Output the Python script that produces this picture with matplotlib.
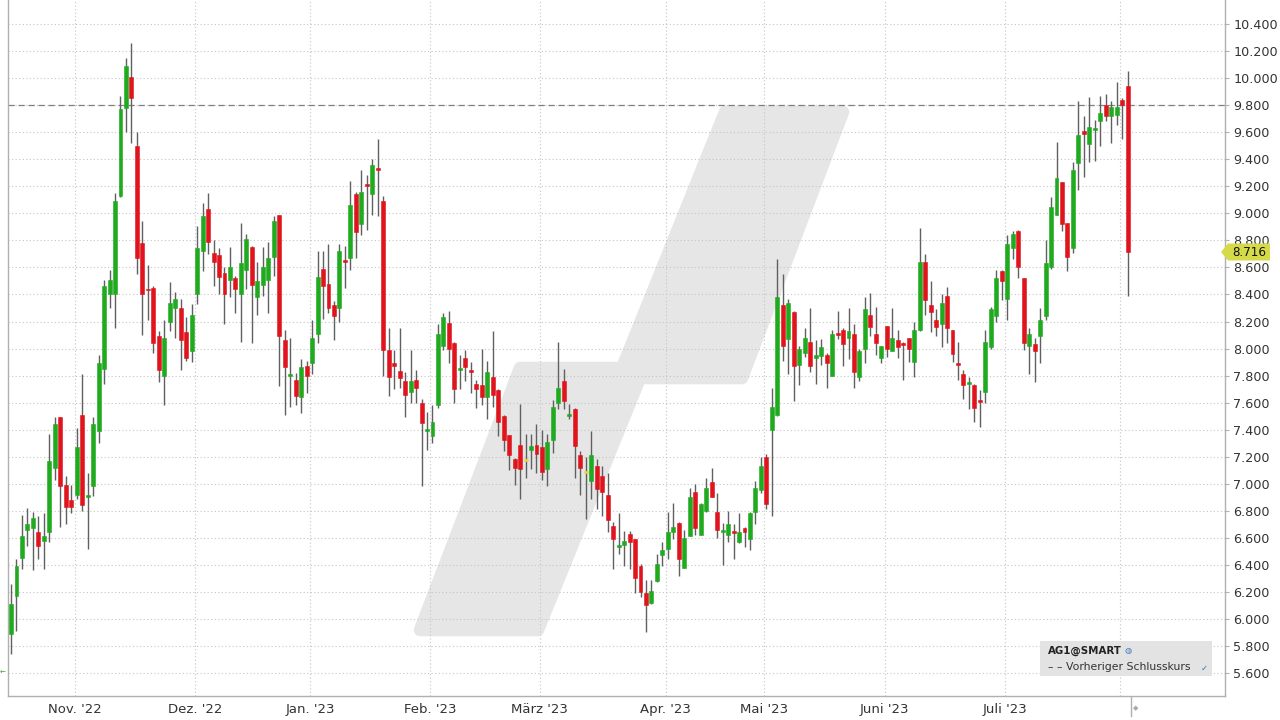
import numpy as np
import pandas as pd
import matplotlib
matplotlib.use("Agg")
import matplotlib.pyplot as plt
from matplotlib.patches import Polygon, Rectangle

plt.rcParams['font.family'] = ['DejaVu Sans']

# ---------------- data ----------------
start_date = "2022-10-14"
end_date = "2023-08-02"
holidays = ["2022-12-26", "2023-04-07", "2023-04-10", "2023-05-01"]

opens = [5.89, 6.17, 6.45, 6.66, 6.67, 6.64, 6.58, 6.64, 7.12, 7.49, 6.99, 6.88,
         6.92, 7.51, 6.905, 6.98, 7.39, 7.85, 8.40, 8.40, 9.13, 9.78, 10.01, 9.50,
         8.78, 8.44, 8.45, 8.09, 7.80, 8.20, 8.30, 8.30, 8.12, 7.98,
         8.40, 8.72, 9.03, 8.71, 8.69, 8.56, 8.51, 8.52, 8.40, 8.58, 8.75, 8.38,
         8.47, 8.51, 8.68, 8.99, 8.06, 7.795, 7.77, 7.64, 7.87,
         7.89, 8.11, 8.59, 8.48, 8.32, 8.30, 8.65, 8.67, 9.14, 8.92, 9.21, 9.14,
         9.33, 9.09, 7.99, 7.89, 7.835, 7.76, 7.68, 7.77, 7.60, 7.39,
         7.35, 7.58, 8.02, 8.19, 8.04, 7.843, 7.93, 7.837, 7.74, 7.73, 7.64, 7.79,
         7.69, 7.50, 7.36, 7.18, 7.29, 7.17, 7.25, 7.29,
         7.27, 7.11, 7.32, 7.60, 7.76, 7.50, 7.555, 7.21, 7.08, 7.02, 7.13, 7.06,
         6.92, 6.69, 6.53, 6.55, 6.63, 6.59, 6.39, 6.19, 6.12, 6.28, 6.47,
         6.52, 6.64, 6.71, 6.38, 6.61, 6.94, 6.62, 6.80, 7.01, 6.79, 6.64, 6.62,
         6.643, 6.57, 6.67, 6.59, 6.79, 6.95,
         7.20, 7.40, 7.51, 8.32, 8.07, 8.27, 7.88, 7.97, 8.05, 7.93, 7.945, 7.95,
         7.80, 8.113, 8.14, 8.08, 8.11, 7.79, 8.00, 8.25, 8.11, 7.93,
         8.17, 7.98, 8.06, 8.044, 8.08, 7.90, 8.135, 8.64, 8.32, 8.21, 8.18, 8.39,
         8.135, 7.89, 7.81, 7.735, 7.73, 7.614, 7.68, 8.01, 8.24, 8.57,
         8.37, 8.74, 8.87, 8.52, 8.02, 8.03, 8.09, 8.24, 8.60, 8.99, 9.23, 8.93,
         8.74, 9.37, 9.606, 9.51, 9.616, 9.68, 9.80, 9.72, 9.73,
         9.835, 9.94]
highs = [6.26, 6.44, 6.77, 6.82, 6.79, 6.76, 6.78, 7.37, 7.49, 7.49, 7.06, 6.99,
         7.41, 7.81, 7.08, 7.49, 7.95, 8.51, 8.58, 9.15, 9.87, 10.15, 10.26, 9.60,
         8.94, 8.62, 8.46, 8.13, 8.21, 8.49, 8.42, 8.37, 8.23, 8.33,
         8.91, 9.08, 9.15, 8.80, 8.74, 8.60, 8.75, 8.54, 8.93, 8.85, 8.76, 8.64,
         8.75, 8.79, 8.98, 8.99, 8.14, 8.08, 7.82, 7.92, 7.91,
         8.21, 8.72, 8.72, 8.77, 8.35, 8.77, 8.76, 9.24, 9.16, 9.32, 9.28, 9.40,
         9.55, 9.13, 8.15, 7.99, 8.15, 7.83, 7.99, 7.84, 7.63, 7.53,
         7.58, 8.18, 8.26, 8.28, 8.05, 7.95, 7.99, 7.90, 7.77, 8.00, 7.91, 8.13,
         7.70, 7.51, 7.36, 7.19, 7.59, 7.37, 7.37, 7.44,
         7.40, 7.37, 7.62, 8.05, 7.85, 7.59, 7.56, 7.24, 7.20, 7.39, 7.18, 7.13,
         7.08, 6.72, 6.78, 6.65, 6.65, 6.59, 6.41, 6.29, 6.29, 6.48, 6.57,
         6.79, 6.86, 6.72, 6.66, 6.97, 7.00, 6.86, 7.04, 7.12, 6.93, 6.71, 6.80,
         6.70, 6.78, 6.68, 6.79, 7.02, 7.20,
         7.22, 7.71, 8.66, 8.55, 8.37, 8.28, 8.02, 8.15, 8.30, 8.06, 8.07, 7.97,
         8.14, 8.28, 8.15, 8.30, 8.18, 8.00, 8.38, 8.41, 8.31, 8.02,
         8.17, 8.30, 8.14, 8.05, 8.08, 8.20, 8.89, 8.70, 8.50, 8.29, 8.40, 8.455,
         8.14, 8.05, 7.84, 7.79, 7.74, 7.69, 8.14, 8.31, 8.58, 8.58,
         8.84, 8.87, 8.88, 8.52, 8.15, 8.08, 8.30, 8.80, 9.12, 9.53, 9.23, 8.93,
         9.38, 9.83, 9.72, 9.86, 9.69, 9.87, 9.88, 9.83, 9.975,
         9.85, 10.05]
lows = [5.74, 5.91, 6.37, 6.54, 6.36, 6.44, 6.37, 6.57, 7.03, 6.68, 6.70, 6.78,
        6.89, 6.80, 6.52, 6.91, 7.30, 7.74, 8.30, 8.15, 9.12, 9.60, 9.52, 8.55,
        8.10, 8.21, 7.97, 7.75, 7.58, 8.13, 8.08, 7.84, 7.91, 7.90,
        8.33, 8.57, 8.70, 8.46, 8.40, 8.18, 8.38, 8.26, 8.05, 8.44, 8.04, 8.25,
        8.39, 8.26, 8.54, 7.72, 7.51, 7.57, 7.58, 7.52, 7.67,
        7.81, 8.04, 8.22, 8.26, 8.06, 8.20, 8.45, 8.58, 8.67, 8.84, 8.88, 8.99,
        8.98, 7.80, 7.65, 7.70, 7.71, 7.49, 7.60, 7.60, 6.98, 7.25,
        7.30, 7.56, 7.99, 7.89, 7.60, 7.70, 7.76, 7.67, 7.56, 7.58, 7.48, 7.57,
        7.35, 7.24, 7.10, 6.99, 6.89, 7.04, 7.11, 7.08,
        7.03, 6.98, 7.23, 7.55, 7.55, 7.48, 7.04, 6.92, 6.74, 6.89, 6.81, 6.76,
        6.64, 6.37, 6.48, 6.39, 6.37, 6.19, 6.16, 5.90, 6.11, 6.27, 6.39,
        6.44, 6.59, 6.32, 6.38, 6.61, 6.62, 6.62, 6.79, 6.90, 6.60, 6.40, 6.57,
        6.44, 6.56, 6.53, 6.51, 6.70, 6.93,
        6.81, 6.76, 7.50, 7.91, 7.81, 7.61, 7.73, 7.94, 7.83, 7.74, 7.88, 7.71,
        7.80, 8.07, 7.87, 7.92, 7.71, 7.76, 7.89, 8.09, 7.95, 7.89,
        7.94, 7.98, 7.93, 7.77, 7.90, 7.79, 8.13, 8.25, 8.12, 8.09, 8.01, 8.04,
        7.90, 7.77, 7.63, 7.55, 7.46, 7.42, 7.60, 8.00, 8.20, 8.36,
        8.21, 8.665, 8.52, 7.99, 7.81, 7.75, 7.89, 8.21, 8.59, 8.99, 8.87, 8.57,
        8.71, 9.17, 9.27, 9.38, 9.39, 9.50, 9.68, 9.52, 9.65,
        9.55, 8.39]
closes = [6.11, 6.39, 6.61, 6.70, 6.75, 6.54, 6.61, 7.17, 7.44, 6.98, 6.83, 6.83,
          7.27, 6.84, 6.915, 7.44, 7.89, 8.46, 8.51, 9.09, 9.77, 10.09, 9.85, 8.67,
          8.40, 8.43, 8.04, 7.84, 8.08, 8.34, 8.37, 8.06, 7.93, 8.25,
          8.74, 8.98, 8.79, 8.64, 8.53, 8.40, 8.60, 8.44, 8.63, 8.81, 8.47, 8.50,
          8.60, 8.67, 8.94, 8.09, 7.86, 7.80, 7.65, 7.86, 7.80,
          8.08, 8.53, 8.46, 8.30, 8.24, 8.72, 8.64, 9.06, 8.86, 9.16, 9.20, 9.36,
          9.32, 7.99, 7.79, 7.87, 7.785, 7.66, 7.76, 7.71, 7.45, 7.40,
          7.46, 8.11, 8.23, 8.00, 7.70, 7.857, 7.86, 7.827, 7.70, 7.64, 7.83, 7.66,
          7.46, 7.32, 7.21, 7.12, 7.11, 7.17, 7.28, 7.22,
          7.09, 7.31, 7.57, 7.71, 7.61, 7.51, 7.28, 7.12, 7.08, 7.21, 6.96, 6.94,
          6.73, 6.59, 6.55, 6.58, 6.57, 6.30, 6.20, 6.10, 6.21, 6.41, 6.51,
          6.64, 6.68, 6.44, 6.60, 6.90, 6.67, 6.85, 6.97, 6.90, 6.66, 6.66, 6.70,
          6.633, 6.64, 6.64, 6.78, 6.97, 7.13,
          6.85, 7.57, 8.38, 8.02, 8.34, 7.87, 8.00, 8.08, 7.87, 7.95, 8.01, 7.89,
          8.11, 8.10, 8.03, 8.13, 7.83, 7.98, 8.29, 8.16, 8.04, 8.02,
          8.00, 8.08, 8.01, 8.027, 8.00, 8.14, 8.64, 8.36, 8.27, 8.16, 8.34, 8.15,
          7.96, 7.88, 7.73, 7.745, 7.56, 7.605, 8.05, 8.29, 8.52, 8.50,
          8.77, 8.85, 8.60, 8.04, 8.11, 7.98, 8.21, 8.63, 9.05, 9.26, 8.92, 8.68,
          9.32, 9.58, 9.586, 9.64, 9.623, 9.74, 9.72, 9.79, 9.79,
          9.80, 8.716]

y_ticks = [5.6, 5.8, 6.0, 6.2, 6.4, 6.6, 6.8, 7.0, 7.2, 7.4, 7.6, 7.8, 8.0,
           8.2, 8.4, 8.6, 8.8, 9.0, 9.2, 9.4, 9.6, 9.8, 10.0, 10.2, 10.4]
month_labels = ["Nov. '22", "Dez. '22", "Jan. '23", "Feb. '23", "März '23",
                "Apr. '23", "Mai '23", "Juni '23", "Juli '23"]
prev_close = 9.80
last_price = 8.716
legend_title = "AG1@SMART"
legend_item = "Vorheriger Schlusskurs"

# ---------------- figure ----------------
W, H = 1280, 720
fig = plt.figure(figsize=(W / 100, H / 100), dpi=100)
fig.patch.set_facecolor("white")

def fx(px):
    return px / W

def fy(py):
    return 1 - py / H

ax = fig.add_axes([fx(8), fy(696), fx(1225) - fx(8), fy(0) - fy(696)])
ax.set_facecolor("white")

dates = pd.bdate_range(start_date, end_date, freq="C", holidays=holidays)
n = len(opens)
x = np.arange(n)

ax.set_xlim(-0.55, 221.78)
ax.set_ylim(5.430, 10.578)

# watermark (pixel coordinates)
wm = [(420, 630), (538, 630), (640, 378), (742, 378), (843, 112),
      (725, 112), (622, 368), (520, 368)]
poly = Polygon([(fx(a), fy(b)) for a, b in wm], closed=True,
               transform=fig.transFigure, facecolor="#e6e6e6",
               edgecolor="#e6e6e6", linewidth=9, joinstyle="round", zorder=0)
ax.add_patch(poly)

# grid
for v in y_ticks:
    ax.axhline(v, color="#c4c4c4", lw=0.8, dashes=(1, 2.2), zorder=1)
month_idx = [i for i in range(1, len(dates)) if dates[i].month != dates[i - 1].month]
for i in month_idx:
    ax.axvline(i - 0.4, color="#c4c4c4", lw=0.8, dashes=(1, 2.2), zorder=1)

# previous close line
ax.axhline(prev_close, color="#808080", lw=0.9, dashes=(5, 3), zorder=1.5)

# candles
o = np.array(opens); h = np.array(highs); l = np.array(lows); c = np.array(closes)
cols = np.where(c > o, "#1faa1f", np.where(c < o, "#e0141c", "#e8d64a"))
ax.vlines(x, l, h, color="#606060", lw=1.0, zorder=2)
body_h = np.maximum(np.abs(c - o), 0.014)
ax.bar(x, body_h, bottom=np.minimum(o, c), width=0.72, color=cols,
       edgecolor=cols, linewidth=0.4, zorder=3)

# axes styling
ax.spines["top"].set_visible(False)
for s in ["left", "right", "bottom"]:
    ax.spines[s].set_color("#b0b0b0")
    ax.spines[s].set_linewidth(1.0)

ax.yaxis.tick_right()
ax.set_yticks(y_ticks)
ax.set_yticklabels([f"{v:.3f}" for v in y_ticks], fontsize=9.2, color="#333333")
ax.tick_params(axis="y", length=3, color="#b0b0b0", pad=3)

ax.set_xticks([i - 0.4 for i in month_idx[:len(month_labels)]])
ax.set_xticklabels(month_labels, fontsize=9.5, color="#333333")
ax.tick_params(axis="x", length=0, pad=5)

# last price label
lp_y = 252
tri = Polygon([(fx(1221), fy(lp_y)), (fx(1228), fy(lp_y - 8.5)), (fx(1270), fy(lp_y - 8.5)),
               (fx(1270), fy(lp_y + 8.5)), (fx(1228), fy(lp_y + 8.5))], closed=True,
              transform=fig.transFigure, facecolor="#d6da48", edgecolor="none",
              zorder=10)
fig.patches.append(tri)
fig.text(fx(1249), fy(lp_y), f"{last_price:.3f}", ha="center", va="center",
         fontsize=8.6, color="#111111", zorder=11)

# legend box
fig.patches.append(Rectangle((fx(1040), fy(676)), fx(1212) - fx(1040), fy(641) - fy(676),
                             transform=fig.transFigure, facecolor="#e3e3e3",
                             edgecolor="none", zorder=10))
fig.text(fx(1048), fy(651), legend_title, ha="left", va="center", fontsize=7.4,
         fontweight="bold", color="#222222", zorder=11)
fig.text(fx(1128), fy(651), "\u25cd", ha="center", va="center", fontsize=6,
         color="#4a7fc0", zorder=11)
fig.text(fx(1048), fy(667), "\u2013 \u2013 " + legend_item, ha="left", va="center",
         fontsize=7.8, color="#333333", zorder=11)
fig.text(fx(1204), fy(668), "\u2713", ha="center", va="center", fontsize=6,
         color="#3a6fd0", zorder=11)

# latest bar marker below axis
fig.add_artist(plt.Line2D([fx(1131), fx(1131)], [fy(697), fy(716)],
                          transform=fig.transFigure, color="#b0b0b0", lw=1))
fig.text(fx(1136), fy(708), "\u25c6", ha="center", va="center", fontsize=5,
         color="#aaaaaa")
fig.text(fx(3), fy(673), "\u2190", ha="center", va="center", fontsize=5,
         color="#3a9a3a")

fig.savefig("out.png", dpi=100, facecolor="white")
